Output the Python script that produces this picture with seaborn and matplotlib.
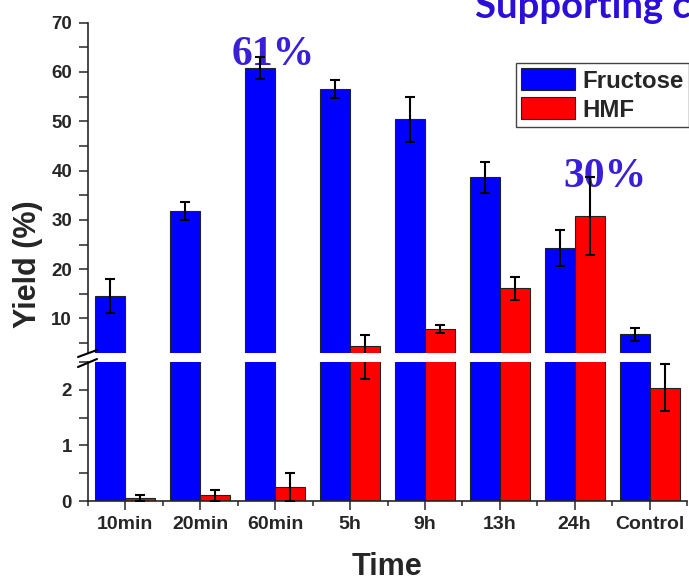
import matplotlib
matplotlib.use("Agg")
import matplotlib.pyplot as plt
from matplotlib.ticker import MultipleLocator, FixedLocator
from matplotlib.lines import Line2D
import pandas as pd
import seaborn as sns

# --- DATA ---
times = ["10min", "20min", "60min", "5h", "9h", "13h", "24h", "Control"]
fructose = [14.6, 31.8, 60.8, 56.5, 50.4, 38.6, 24.3, 6.8]
fructose_err = [3.4, 1.8, 2.2, 1.8, 4.5, 3.2, 3.6, 1.3]
hmf = [0.05, 0.1, 0.25, 4.4, 7.9, 16.1, 30.8, 2.04]
hmf_err = [0.05, 0.1, 0.25, 2.2, 0.85, 2.4, 7.9, 0.43]
products = ["Fructose", "HMF"]
colors = {"Fructose": "#0000ff", "HMF": "#ff0000"}

df = pd.DataFrame({
    "Time": times * 2,
    "Product": ["Fructose"] * len(times) + ["HMF"] * len(times),
    "Yield": fructose + hmf,
})

# --- STYLE ---
sns.set_style("ticks")
plt.rcParams["font.family"] = ["Liberation Sans", "DejaVu Sans"]
plt.rcParams["font.weight"] = "bold"
plt.rcParams["axes.linewidth"] = 1.2

W, H = 689, 578
fig = plt.figure(figsize=(W / 100, H / 100), dpi=100)
ax_top = fig.add_axes([88 / W, (H - 353) / H, 599 / W, (353 - 22.7) / H])
ax_bot = fig.add_axes([88 / W, (H - 501) / H, 599 / W, (501 - 362) / H])

for ax in (ax_top, ax_bot):
    sns.barplot(data=df, x="Time", y="Yield", hue="Product", palette=colors,
                errorbar=None, saturation=1, width=0.8, edgecolor="#222222",
                linewidth=0.8, ax=ax)
    for cont, vals, errs in zip(ax.containers, [fructose, hmf], [fructose_err, hmf_err]):
        xs = [p.get_x() + p.get_width() / 2 for p in cont]
        ax.errorbar(xs, vals, yerr=errs, fmt="none", ecolor="black",
                    elinewidth=1.5, capsize=3.8, capthick=1.5, zorder=4)
    ax.set_xlim(-0.5, len(times) - 0.5)
    ax.set_xlabel("")
    ax.set_ylabel("")
    ax.spines["top"].set_visible(False)
    ax.spines["right"].set_visible(False)
    ax.tick_params(axis="y", which="both", direction="out", length=6.5,
                   width=1.1, labelsize=13.5, pad=5)

# legend from seaborn, moved to figure
leg = ax_top.get_legend()
handles = leg.legend_handles
labels = [t.get_text() for t in leg.get_texts()]
leg.remove()
ax_bot.get_legend().remove()

# upper part
ax_top.set_ylim(3, 70)
ax_top.yaxis.set_major_locator(MultipleLocator(10))
ax_top.yaxis.set_minor_locator(MultipleLocator(5))
ax_top.spines["bottom"].set_visible(False)
ax_top.tick_params(axis="x", which="both", bottom=False, labelbottom=False)

# lower part
ax_bot.set_ylim(0, 2.5)
ax_bot.yaxis.set_major_locator(MultipleLocator(1))
ax_bot.yaxis.set_minor_locator(MultipleLocator(0.5))
ax_bot.xaxis.set_minor_locator(FixedLocator([i - 0.5 for i in range(len(times) + 1)]))
ax_bot.tick_params(axis="x", which="major", length=6.5, width=1.1, labelsize=14, pad=4)
ax_bot.tick_params(axis="x", which="minor", length=3.5, width=1.1)

# break marks
for y0, y1 in [(357, 350), (367, 359)]:
    fig.add_artist(Line2D([78 / W, 97 / W], [1 - y0 / H, 1 - y1 / H], color="black", lw=1.5))

# annotations
ax_top.text(1.97, 61.4, "61%", ha="center", va="baseline", fontsize=30,
            family="Liberation Serif", weight="bold", color="#3a1fd8", zorder=2)
ax_top.text(6.41, 36.7, "30%", ha="center", va="baseline", fontsize=30,
            family="Liberation Serif", weight="bold", color="#3a1fd8", zorder=2)

fig.text(475 / W, 1 - 18 / H, "Supporting c", fontsize=27.5, family="Lato",
         weight="bold", color="#2b0fd9", va="baseline", ha="left")

fig.text(28 / W, 1 - 264 / H, "Yield (%)", rotation=90, ha="center", va="center",
         fontsize=22, weight="bold")
fig.text(387 / W, 1 - 575 / H, "Time", ha="center", va="baseline", fontsize=22, weight="bold")

lg = fig.legend(handles, labels, loc="upper left", bbox_to_anchor=(516 / W, 1 - 63 / H),
                fontsize=17.3, handlelength=2.25, handleheight=1.04, labelspacing=0.2,
                handletextpad=0.3, borderpad=0.22, borderaxespad=0, frameon=True,
                fancybox=False, edgecolor="#444444", framealpha=1)
lg.get_frame().set_linewidth(1.0)

fig.savefig("out.png", dpi=100)
